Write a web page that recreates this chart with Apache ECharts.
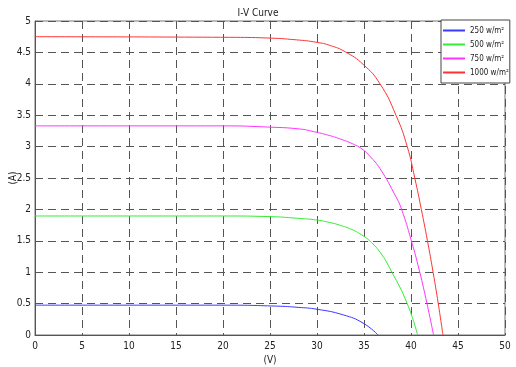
<!DOCTYPE html>
<html>
<head>
<meta charset="utf-8">
<script src="https://cdn.jsdelivr.net/npm/echarts@6/dist/echarts.min.js"></script>
<style>
  html, body { margin: 0; padding: 0; background: #fff; }
  #chart { width: 516px; height: 367px; }
</style>
</head>
<body>
<div id="chart"></div>
<script>
// irradiance levels
const seriesNames = ['250 w/m²', '500 w/m²', '750 w/m²', '1000 w/m²']
const seriesColors = ['#3a3aff', '#33ee33', '#ff33ff', '#ff3333']

// voltage (V) / current (A)
const v250 = [0, 20, 25.7, 28, 30, 32.8, 34.9, 36.5]
const i250 = [0.475, 0.475, 0.46, 0.44, 0.41, 0.32, 0.19, 0]

const v500 = [0, 20, 25, 27.8, 30, 31.4, 32.4, 33.7, 34.9, 35.6, 36.7, 37.9, 39.6, 40.7]
const i500 = [1.895, 1.895, 1.885, 1.86, 1.83, 1.79, 1.75, 1.68, 1.58, 1.50, 1.32, 1.02, 0.5, 0]

const v750 = [0, 20, 25, 28.2, 29.6, 31.0, 32.5, 34.0, 34.9, 35.6, 36.7, 38.4, 39.0, 40.0, 40.9, 41.7, 42.4]
const i750 = [3.33, 3.33, 3.31, 3.28, 3.24, 3.19, 3.12, 3.03, 2.95, 2.85, 2.65, 2.2, 2.0, 1.52, 1.02, 0.5, 0]

const v1000 = [0, 20.7, 24.6, 27.8, 30.0, 31.4, 33.0, 34.9, 36.7, 38.4, 39.6, 40.4, 41.1, 41.75, 42.35, 42.9, 43.4]
const i1000 = [4.75, 4.74, 4.73, 4.70, 4.66, 4.61, 4.51, 4.31, 4.0, 3.5, 3.0, 2.5, 2.0, 1.5, 1.0, 0.5, 0]

const voltages = [v250, v500, v750, v1000]
const currents = [i250, i500, i750, i1000]

const font = "'DejaVu Sans Condensed', 'Liberation Sans', sans-serif"
const gridLine = {show: true, lineStyle: {color: '#555', type: [8, 5], width: 1}}

const chart = echarts.init(document.getElementById('chart'))
chart.setOption({
  animation: false,
  title: {
    text: 'I-V Curve',
    left: 'center',
    top: 3,
    textStyle: {fontFamily: font, fontSize: 10, fontWeight: 'normal', color: '#222'}
  },
  legend: {
    orient: 'vertical',
    left: 441,
    top: 20,
    padding: [5, 1, 5, 2],
    itemGap: 3,
    itemWidth: 22,
    itemHeight: 2,
    icon: 'rect',
    backgroundColor: '#fff',
    borderColor: '#444',
    borderWidth: 1,
    textStyle: {fontFamily: font, fontSize: 8, color: '#222', lineHeight: 11}
  },
  grid: {
    left: 35, right: 11, top: 21, bottom: 32,
    outerBoundsMode: 'none',
    show: true, borderColor: '#777', borderWidth: 1
  },
  xAxis: {
    type: 'value',
    min: 0, max: 50, interval: 5,
    name: '(V)',
    nameLocation: 'middle',
    nameGap: 20,
    nameMoveOverlap: false,
    nameTextStyle: {fontFamily: font, fontSize: 10, color: '#222'},
    axisLine: {lineStyle: {color: '#555'}},
    axisTick: {show: false},
    axisLabel: {fontFamily: font, fontSize: 10, color: '#222', margin: 6},
    splitLine: gridLine
  },
  yAxis: {
    type: 'value',
    min: 0, max: 5, interval: 0.5,
    name: '(A)',
    nameLocation: 'middle',
    nameGap: 17,
    nameMoveOverlap: false,
    nameTextStyle: {fontFamily: font, fontSize: 10, color: '#222'},
    axisLine: {show: true, lineStyle: {color: '#555'}},
    axisTick: {show: false},
    axisLabel: {fontFamily: font, fontSize: 10, color: '#222', margin: 4},
    splitLine: gridLine
  },
  series: seriesNames.map((name, k) => ({
    name,
    type: 'line',
    data: voltages[k].map((v, j) => [v, currents[k][j]]),
    smooth: 0.5,
    showSymbol: false,
    color: seriesColors[k],
    lineStyle: {width: 1, color: seriesColors[k]}
  }))
})
</script>
</body>
</html>
